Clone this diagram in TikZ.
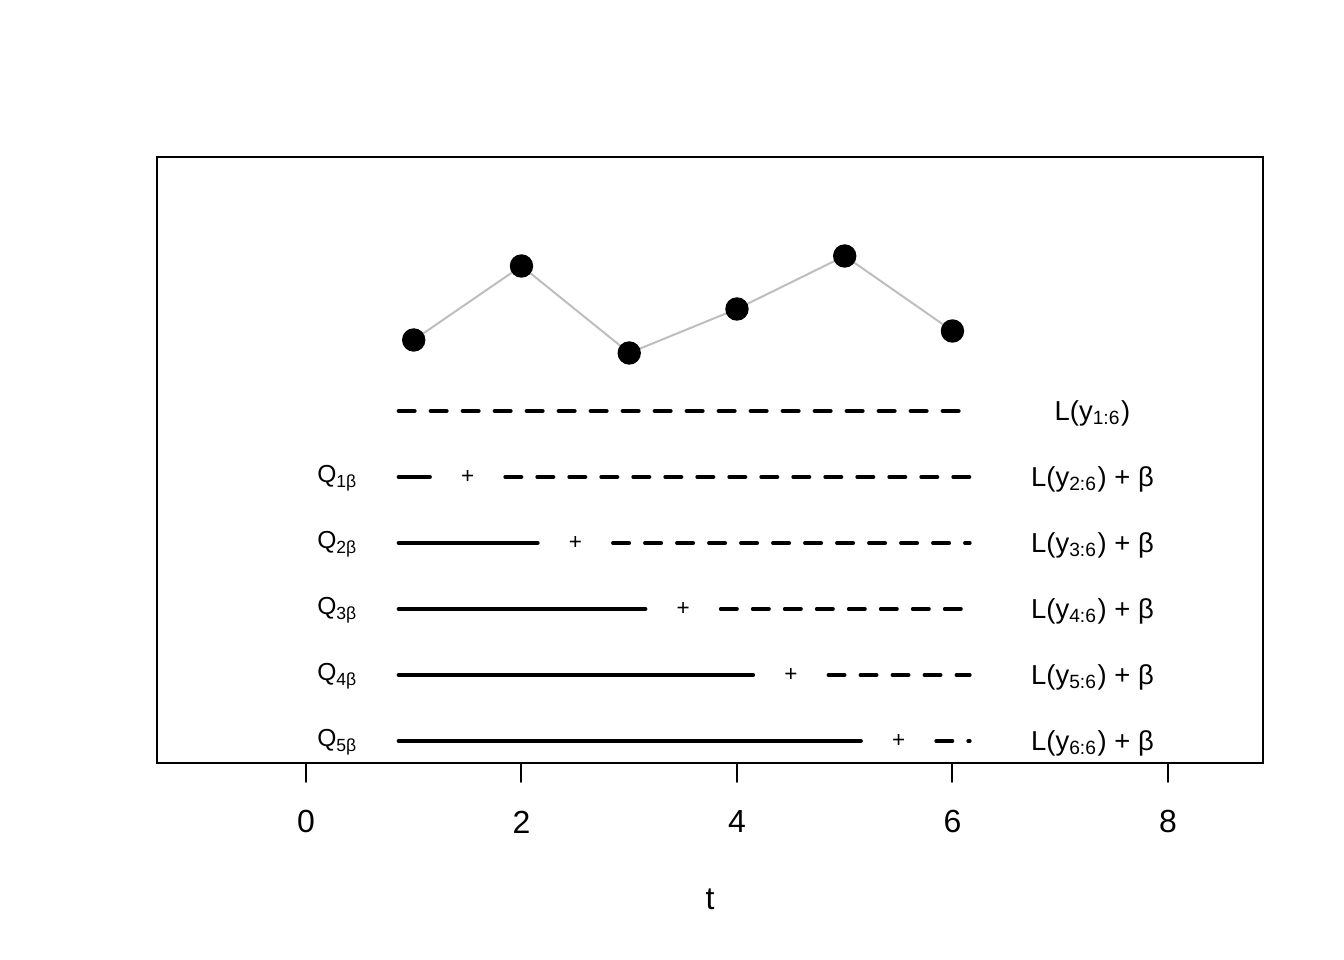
\documentclass[tikz,border=0pt]{standalone}
\usepackage{fontspec}
\setmainfont{Liberation Sans}
\usepackage{tikz}

\definecolor{linegray}{RGB}{190,190,190}

\begin{document}
\begin{tikzpicture}[line cap=round, line join=round, x=1.0775cm, y=1cm,
    lab/.style={font=\fontsize{7.0}{8}\selectfont, inner sep=0pt},
    costlab/.style={font=\fontsize{7.8}{9}\selectfont, inner sep=0pt},
    plus/.style={font=\fontsize{6.4}{7}\selectfont, inner sep=0pt},
    ticklab/.style={font=\fontsize{9.1}{10}\selectfont, inner sep=0pt},
    solidseg/.style={line width=1.14pt},
    dashseg/.style={line width=1.14pt, dash pattern=on 0.16cm off 0.16cm}]
                \useasboundingbox (-2.84, 0) rectangle (9.634, 9.6);
                \draw[line width=0.57pt, line cap=butt, line join=miter] (-1.383, 1.97) rectangle (8.882, 8.03);
                % data points
                \coordinate (p1) at (1, 6.20);
                \coordinate (p2) at (2, 6.94);
                \coordinate (p3) at (3, 6.07);
                \coordinate (p4) at (4, 6.51);
                \coordinate (p5) at (5, 7.04);
                \coordinate (p6) at (6, 6.29);
                \draw[linegray, line width=0.57pt] (p1) -- (p2) -- (p3) -- (p4) -- (p5) -- (p6);
                \foreach \point in {p1, p2, p3, p4, p5, p6}
                    \draw[fill=black] (\point) circle (0.11cm);
                % full segment
                \coordinate (s0) at (0.86, 5.49);
                \coordinate (f0) at (6.16, 5.49);
                \draw[dashseg] (s0) -- (f0);
                \node[costlab, anchor=base] (cost0) at (7.30, 5.39) {L(y\textsubscript{1:6})};
                % split segments
                \foreach \k/\y in {1/4.83, 2/4.17, 3/3.51, 4/2.85, 5/2.19} {
                    \coordinate (s\k) at (0.86, \y);
                    \coordinate (e\k) at (\k+0.15, \y);
                    \coordinate (d\k) at (\k+0.85, \y);
                    \coordinate (f\k) at (6.16, \y);
                    \draw[solidseg] (s\k) -- (e\k);
                    \node[plus] (plus\k) at (\k+0.5, \y) {+};
                    \draw[dashseg] (d\k) -- (f\k);
                    \node[lab, anchor=base east] (q\k) at (0.49, \y-0.06) {Q\textsubscript{\k β}};
                    \pgfmathtruncatemacro{\n}{\k+1}
                    \node[costlab, anchor=base] (cost\k) at (7.30, \y-0.10) {L(y\textsubscript{\n:6}) + β};
                }
                % axis
                \draw[line width=0.57pt] (0, 1.97) -- (8, 1.97);
                \foreach \t in {0, 2, 4, 6, 8} {
                    \draw[line width=0.57pt] (\t, 1.97) -- (\t, 1.78);
                    \node[ticklab] (tick\t) at (\t, 1.38) {\t};
                }
                \node[ticklab] (tlab) at (3.75, 0.61) {t};
            \end{tikzpicture}
\end{document}
